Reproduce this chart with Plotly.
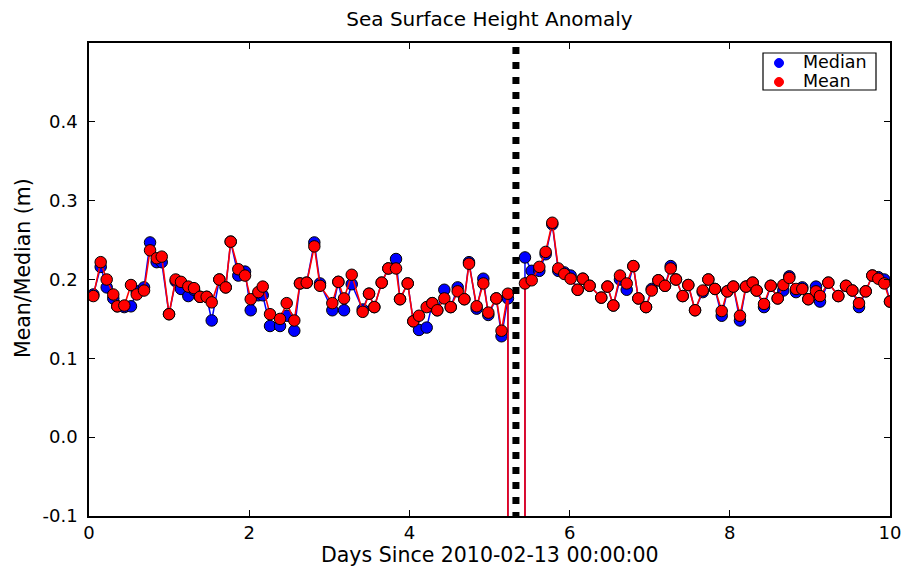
import plotly.graph_objects as go

# ---- data ----
days = [0.054, 0.146, 0.221, 0.303, 0.353, 0.441, 0.524, 0.596, 0.687, 0.762,
        0.845, 0.908, 0.999, 1.082, 1.149, 1.240, 1.311, 1.386, 1.469, 1.532,
        1.627, 1.707, 1.769, 1.864, 1.948, 2.019, 2.114, 2.169, 2.260, 2.385,
        2.468, 2.563, 2.634, 2.718, 2.813, 2.884, 3.038, 3.113, 3.184, 3.280,
        3.417, 3.496, 3.562, 3.654, 3.737, 3.833, 3.883, 3.979, 4.049, 4.120,
        4.216, 4.286, 4.348, 4.436, 4.516, 4.603, 4.686, 4.744, 4.840, 4.923,
        4.985, 5.085, 5.150, 5.230, 5.250, 5.420, 5.443, 5.527, 5.622, 5.701,
        5.784, 5.859, 5.934, 6.013, 6.101, 6.165, 6.250, 6.395, 6.473, 6.546,
        6.629, 6.713, 6.796, 6.858, 6.954, 7.025, 7.108, 7.191, 7.262, 7.328,
        7.412, 7.482, 7.566, 7.662, 7.732, 7.815, 7.899, 7.969, 8.044, 8.127,
        8.202, 8.285, 8.335, 8.427, 8.511, 8.598, 8.668, 8.743, 8.827, 8.905,
        8.980, 9.076, 9.126, 9.230, 9.355, 9.451, 9.530, 9.613, 9.697, 9.779,
        9.854, 9.929, 10.0]

FILL = -999.0

mean_vals = [0.179, 0.222, 0.200, 0.181, 0.166, 0.167, 0.193, 0.181, 0.186, 0.237,
             0.227, 0.229, 0.156, 0.200, 0.197, 0.191, 0.189, 0.178, 0.178, 0.171,
             0.200, 0.190, 0.248, 0.213, 0.205, 0.175, 0.184, 0.191, 0.156, 0.150,
             0.170, 0.148, 0.195, 0.196, 0.242, 0.192, 0.170, 0.197, 0.176, 0.206,
             0.159, 0.182, 0.165, 0.196, 0.214, 0.214, 0.175, 0.195, 0.147, 0.154,
             0.165, 0.170, 0.161, 0.176, 0.165, 0.185, 0.175, 0.220, 0.166, 0.195,
             0.158, 0.176, 0.135, 0.182, FILL, FILL, 0.195, 0.199, 0.216, 0.235,
             0.272, 0.214, 0.207, 0.201, 0.187, 0.201, 0.192, 0.177, 0.191, 0.167,
             0.205, 0.195, 0.217, 0.176, 0.165, 0.186, 0.199, 0.192, 0.214, 0.200,
             0.179, 0.193, 0.161, 0.186, 0.200, 0.188, 0.160, 0.185, 0.191, 0.154,
             0.191, 0.196, 0.186, 0.169, 0.192, 0.176, 0.193, 0.202, 0.188, 0.188,
             0.175, 0.185, 0.179, 0.196, 0.179, 0.192, 0.186, 0.170, 0.185, 0.205,
             0.201, 0.195, 0.172]

median_vals = [0.181, 0.216, 0.190, 0.176, 0.166, 0.165, 0.166, 0.185, 0.190, 0.247,
               0.222, 0.222, 0.156, 0.198, 0.188, 0.179, 0.187, 0.178, 0.178, 0.148,
               0.200, 0.190, 0.248, 0.205, 0.210, 0.161, 0.180, 0.180, 0.141, 0.141,
               0.154, 0.135, 0.195, 0.196, 0.247, 0.195, 0.161, 0.197, 0.161, 0.194,
               0.162, 0.182, 0.165, 0.196, 0.214, 0.226, 0.175, 0.195, 0.147, 0.136,
               0.139, 0.170, 0.161, 0.187, 0.165, 0.190, 0.175, 0.222, 0.163, 0.201,
               0.155, 0.176, 0.128, 0.176, FILL, FILL, 0.228, 0.211, 0.211, 0.232,
               0.270, 0.211, 0.209, 0.205, 0.187, 0.201, 0.192, 0.177, 0.191, 0.167,
               0.200, 0.187, 0.217, 0.176, 0.165, 0.188, 0.199, 0.192, 0.217, 0.200,
               0.179, 0.193, 0.161, 0.184, 0.200, 0.188, 0.154, 0.185, 0.191, 0.148,
               0.191, 0.196, 0.186, 0.165, 0.192, 0.176, 0.186, 0.204, 0.184, 0.190,
               0.175, 0.191, 0.172, 0.196, 0.179, 0.192, 0.186, 0.165, 0.185, 0.205,
               0.203, 0.200, 0.172]

event_day = 5.33
event_span = [0.495, -0.1]

x_ticks = [0, 2, 4, 6, 8, 10]
x_ticktext = ["0", "2", "4", "6", "8", "10"]
y_ticks = [-0.1, 0.0, 0.1, 0.2, 0.3, 0.4]
y_ticktext = ["-0.1", "0.0", "0.1", "0.2", "0.3", "0.4"]

series_names = ["Median", "Mean"]
series_colors = ["#0000ff", "#ff0000"]

FONT = "DejaVu Sans"
W, H = 906, 568
L, R, T, B = 89, 16, 43, 52
PW, PH = W - L - R, H - T - B


def px_to_paper_x(px):
    return (px - L) / PW


def px_to_paper_y(py):
    return (H - B - py) / PH


fig = go.Figure()

# Median series (line + markers)
fig.add_trace(go.Scatter(
    x=days, y=median_vals, mode="lines+markers", showlegend=False,
    line=dict(color=series_colors[0], width=1.5),
    marker=dict(color=series_colors[0], size=11.5, line=dict(color="black", width=1)),
))
# Mean series
fig.add_trace(go.Scatter(
    x=days, y=mean_vals, mode="lines+markers", showlegend=False,
    line=dict(color=series_colors[1], width=1.6),
    marker=dict(color=series_colors[1], size=11.5, line=dict(color="black", width=1)),
))
# Event marker (dotted vertical)
fig.add_trace(go.Scatter(
    x=[event_day, event_day], y=event_span, mode="lines", showlegend=False,
    line=dict(color="black", width=7, dash="7px,8px"),
))

axis_common = dict(
    showline=True, linecolor="black", linewidth=1.5, mirror="ticks",
    ticks="inside", ticklen=6, tickwidth=1, tickcolor="black",
    showgrid=False, zeroline=False, automargin=False,
    tickfont=dict(family=FONT, size=18, color="black"),
)

shapes = []
annotations = []

# legend box (drawn manually, matplotlib style)
shapes.append(dict(type="rect", xref="paper", yref="paper",
                   x0=px_to_paper_x(763), x1=px_to_paper_x(876),
                   y0=px_to_paper_y(90), y1=px_to_paper_y(53),
                   line=dict(color="black", width=1.2), fillcolor="white",
                   layer="above"))
legend_rows = [63, 82]
for name, color, py in zip(series_names, series_colors, legend_rows):
    cx, cy = px_to_paper_x(779), px_to_paper_y(py)
    shapes.append(dict(type="circle", xref="paper", yref="paper",
                       xsizemode="pixel", ysizemode="pixel",
                       xanchor=cx, yanchor=cy, x0=-4.5, x1=4.5, y0=-4.5, y1=4.5,
                       fillcolor=color, line=dict(color=color, width=1),
                       layer="above"))
    annotations.append(dict(text=name, xref="paper", yref="paper",
                            x=px_to_paper_x(801), y=px_to_paper_y(py - 1),
                            xanchor="left", yanchor="middle", showarrow=False,
                            font=dict(family=FONT, size=17.5, color="black")))

# axis titles
annotations.append(dict(text="Days Since 2010-02-13 00:00:00", xref="paper", yref="paper",
                        x=0.5, y=px_to_paper_y(555), xanchor="center", yanchor="middle",
                        showarrow=False, font=dict(family=FONT, size=20.5, color="black")))
annotations.append(dict(text="Mean/Median (m)", xref="paper", yref="paper",
                        x=px_to_paper_x(23), y=px_to_paper_y(268), xanchor="center",
                        yanchor="middle", textangle=-90, showarrow=False,
                        font=dict(family=FONT, size=20.5, color="black")))

fig.update_layout(
    width=W, height=H,
    margin=dict(l=L, r=R, t=T, b=B),
    paper_bgcolor="white", plot_bgcolor="white",
    title=dict(text="Sea Surface Height Anomaly", x=0.5, xref="paper",
               y=1 - 19 / H, yref="container", yanchor="middle",
               font=dict(family=FONT, size=20, color="black")),
    xaxis=dict(range=[0, 10], tickvals=x_ticks, ticktext=x_ticktext, **axis_common),
    yaxis=dict(range=[-0.1, 0.5], tickvals=y_ticks, ticktext=y_ticktext,
               ticklabelstandoff=6, **axis_common),
    shapes=shapes,
    annotations=annotations,
    showlegend=False,
)

fig.write_html("out.html")
